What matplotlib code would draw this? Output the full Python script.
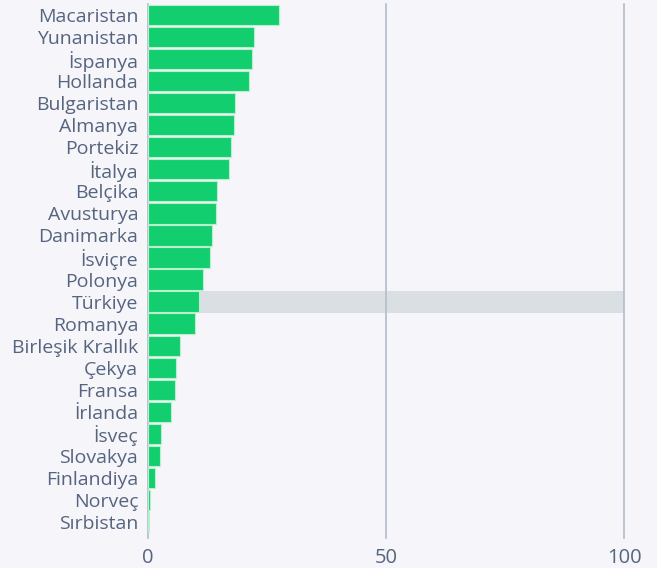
import numpy as np
import matplotlib.pyplot as plt

# veriler
ulkeler = ["Macaristan", "Yunanistan", "İspanya", "Hollanda", "Bulgaristan", "Almanya",
           "Portekiz", "İtalya", "Belçika", "Avusturya", "Danimarka", "İsviçre", "Polonya",
           "Türkiye", "Romanya", "Birleşik Krallık", "Çekya", "Fransa", "İrlanda", "İsveç",
           "Slovakya", "Finlandiya", "Norveç", "Sırbistan"]
degerler = [27.5, 22.3, 21.8, 21.2, 18.3, 18.1, 17.4, 17.0, 14.5, 14.3, 13.4, 13.0, 11.6,
            10.7, 9.9, 6.7, 5.9, 5.7, 4.8, 2.7, 2.5, 1.5, 0.4, 0.2]
vurgu = "Türkiye"
x_ticks = [0, 50, 100]

bg = "#f5f5fa"
yazi = "#56657f"
plt.rcParams['font.family'] = ['Open Sans', 'DejaVu Sans']

fig = plt.figure(figsize=(6.57, 5.68), dpi=100, facecolor=bg)
ax = fig.add_axes([148/657, 1-533/568, (624-148)/657, (533-4)/568], facecolor=bg)

y = np.arange(len(ulkeler))
i = ulkeler.index(vurgu)
ax.barh(i, 100, height=1.0, color="#dadfe3", zorder=1)
ax.barh(y, degerler, height=0.92, color="#12ce6e", edgecolor="#b8f0cf", linewidth=0.8, zorder=3)

for t in x_ticks:
    ax.axvline(t, ymin=-0.01, ymax=1.0, color="#b4bccb", lw=1.2, zorder=2, clip_on=False)

ax.set_xlim(0, 100)
ax.set_ylim(len(ulkeler)-0.5, -0.5)
ax.set_yticks(y)
ax.set_yticklabels(ulkeler)
ax.set_xticks(x_ticks)
ax.tick_params(length=0, colors=yazi)
ax.tick_params(axis='y', pad=7, labelsize=14)
ax.tick_params(axis='x', pad=11, labelsize=14.5)
for s in ax.spines.values():
    s.set_visible(False)

fig.savefig("out.png", dpi=100, facecolor=bg)
